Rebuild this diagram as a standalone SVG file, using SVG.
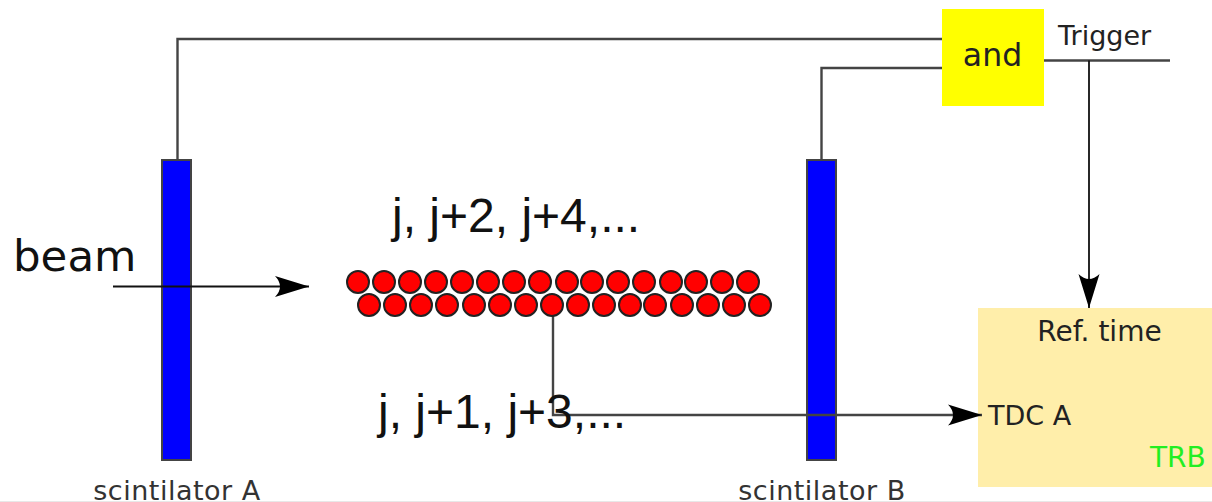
<svg xmlns="http://www.w3.org/2000/svg" width="1212" height="502" viewBox="0 0 1212 502">
<defs>
<marker id="ah" markerUnits="userSpaceOnUse" markerWidth="36" markerHeight="26" refX="34" refY="13" orient="auto"><path d="M0 2.500 L34 13 L0 23.500 Q10 13 0 2.500 Z" fill="#000"/></marker>
</defs>
<style>
text{font-family:"DejaVu Sans",sans-serif;fill:#222}
.w{fill:none;stroke:#444;stroke-width:2.400}
.b{fill:none;stroke:#111;stroke-width:1.800}
.s{fill:#0000ff;stroke:#444;stroke-width:2}
.c{fill:#ff0000;stroke:#222;stroke-width:2}
.a{font-family:"Liberation Sans",Arial,sans-serif;font-size:48px;fill:#111}
.l{font-size:27px;letter-spacing:.5px;fill:#333}
</style>
<rect width="1212" height="502" fill="#fff"/>
<rect y="501" width="1212" height="1" fill="#e8e8e8"/>
<g id="scintillator-a"><rect class="s" x="162" y="160" width="29" height="300"/><text class="l" x="177" y="500" text-anchor="middle">scintilator A</text></g>
<g id="scintillator-b"><rect class="s" x="807" y="160" width="29" height="300"/><text class="l" x="822" y="500" text-anchor="middle">scintilator B</text></g>
<g id="and-gate"><rect x="942" y="9" width="102" height="97" fill="#ffff00"/><text x="992.500" y="66" text-anchor="middle" font-size="31.500">and</text></g>
<g id="trb"><rect x="978" y="308" width="234" height="179" fill="#ffeeaa"/><text x="1099.500" y="341" text-anchor="middle" font-size="28">Ref. time</text><text x="988" y="425" font-size="27">TDC A</text><text x="1150" y="467" font-size="28" style="fill:#22ee22">TRB</text></g>
<g id="connectors">
<path class="w" d="M177.500 160V39H942"/>
<path class="w" d="M821.500 160V68H942"/>
<path class="w" d="M1044 60.500H1170"/>
<path class="b" d="M1089 60.500V308" marker-end="url(#ah)"/>
<path class="b" d="M113 286.500H309" marker-end="url(#ah)"/>
<path class="w" d="M553 316V415H982" marker-end="url(#ah)"/>
</g>
<g id="fibres-top">
<circle class="c" cx="358" cy="282" r="11"/><circle class="c" cx="384" cy="282" r="11"/><circle class="c" cx="410" cy="282" r="11"/><circle class="c" cx="436" cy="282" r="11"/><circle class="c" cx="462" cy="282" r="11"/><circle class="c" cx="488" cy="282" r="11"/><circle class="c" cx="514" cy="282" r="11"/><circle class="c" cx="540" cy="282" r="11"/><circle class="c" cx="567" cy="282" r="11"/><circle class="c" cx="592" cy="282" r="11"/><circle class="c" cx="618" cy="282" r="11"/><circle class="c" cx="644" cy="282" r="11"/><circle class="c" cx="671" cy="282" r="11"/><circle class="c" cx="696" cy="282" r="11"/><circle class="c" cx="722" cy="282" r="11"/><circle class="c" cx="748" cy="282" r="11"/>
</g>
<g id="fibres-bottom">
<circle class="c" cx="369" cy="305" r="11"/><circle class="c" cx="395" cy="305" r="11"/><circle class="c" cx="421" cy="305" r="11"/><circle class="c" cx="447" cy="305" r="11"/><circle class="c" cx="474" cy="305" r="11"/><circle class="c" cx="500" cy="305" r="11"/><circle class="c" cx="526" cy="305" r="11"/><circle class="c" cx="552" cy="305" r="11"/><circle class="c" cx="578" cy="305" r="11"/><circle class="c" cx="604" cy="305" r="11"/><circle class="c" cx="630" cy="305" r="11"/><circle class="c" cx="655" cy="305" r="11"/><circle class="c" cx="682" cy="305" r="11"/><circle class="c" cx="708" cy="305" r="11"/><circle class="c" cx="734" cy="305" r="11"/><circle class="c" cx="760" cy="305" r="11"/>
</g>
<g id="labels">
<text x="13" y="271" font-size="43.500" style="fill:#111">beam</text>
<text class="a" x="392" y="232">j, j+2, j+4,...</text>
<text class="a" x="378" y="428">j, j+1, j+3,...</text>
<text x="1058" y="45" font-size="27">Trigger</text>
</g>
</svg>
